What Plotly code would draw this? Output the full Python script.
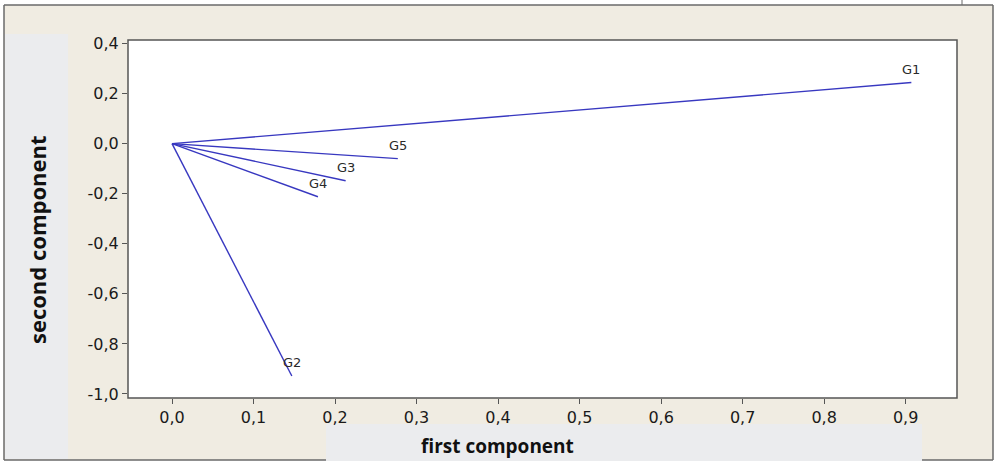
import plotly.graph_objects as go

# data
groups = ["G1", "G2", "G3", "G4", "G5"]
first_comp = [0.907, 0.147, 0.213, 0.179, 0.277]
second_comp = [0.244, -0.928, -0.148, -0.212, -0.060]

x_ticks = [0.0, 0.1, 0.2, 0.3, 0.4, 0.5, 0.6, 0.7, 0.8, 0.9]
x_ticktext = ["0,0", "0,1", "0,2", "0,3", "0,4", "0,5", "0,6", "0,7", "0,8", "0,9"]
y_ticks = [0.4, 0.2, 0.0, -0.2, -0.4, -0.6, -0.8, -1.0]
y_ticktext = ["0,4", "0,2", "0,0", "-0,2", "-0,4", "-0,6", "-0,8", "-1,0"]

W, H = 1007, 463
BEIGE = "#f0ece2"
GRAY = "#ebecee"
LINE = "#3838c0"

fig = go.Figure()
for g, x, y in zip(groups, first_comp, second_comp):
    fig.add_trace(go.Scatter(
        x=[0, x], y=[0, y], mode="lines",
        line=dict(color=LINE, width=1.4), showlegend=False, hoverinfo="skip"))

L, R, T, B = 128, 957, 40, 398
pw, ph = R - L, B - T
def fx(p): return (p - L) / pw
def fy(p): return (B - p) / ph

FR = dict(color="#6a6a6a", width=1.5)
shapes = [
    dict(type="rect", xref="paper", yref="paper", x0=fx(4), x1=fx(993), y0=fy(460), y1=fy(5),
         fillcolor=BEIGE, line=dict(width=0), layer="below"),
    dict(type="rect", xref="paper", yref="paper", x0=fx(5), x1=fx(68), y0=fy(459), y1=fy(34),
         fillcolor=GRAY, line=dict(width=0), layer="below"),
    dict(type="rect", xref="paper", yref="paper", x0=fx(326), x1=fx(922), y0=fy(461), y1=fy(424),
         fillcolor=GRAY, line=dict(width=0), layer="below"),
    dict(type="rect", xref="paper", yref="paper", x0=0, x1=1, y0=0, y1=1,
         fillcolor="white", line=dict(color="#555555", width=1.5), layer="below"),
    dict(type="line", xref="paper", yref="paper", x0=fx(4), x1=fx(993), y0=fy(5), y1=fy(5), line=FR),
    dict(type="line", xref="paper", yref="paper", x0=fx(4), x1=fx(4), y0=fy(5), y1=fy(460), line=FR),
    dict(type="line", xref="paper", yref="paper", x0=fx(993), x1=fx(993), y0=fy(5), y1=fy(460), line=FR),
    dict(type="line", xref="paper", yref="paper", x0=fx(4), x1=fx(326), y0=fy(460), y1=fy(460), line=FR),
    dict(type="line", xref="paper", yref="paper", x0=fx(922), x1=fx(993), y0=fy(460), y1=fy(460), line=FR),
    dict(type="line", xref="paper", yref="paper", x0=fx(962), x1=fx(962), y0=fy(0), y1=fy(5),
         line=dict(color="#6a6a6a", width=1)),
]

annotations = [
    dict(text=g, x=x, y=y, xref="x", yref="y", showarrow=False, yshift=13,
         xanchor="center", yanchor="middle",
         font=dict(family="DejaVu Sans", size=13, color="#2a2a2a"))
    for g, x, y in zip(groups, first_comp, second_comp)
]
annotations += [
    dict(text="<b>first component</b>", xref="paper", yref="paper",
         x=fx(497), y=fy(446), xanchor="center", yanchor="middle", showarrow=False,
         font=dict(family="Open Sans", size=19, color="#111111")),
    dict(text="<b>second component</b>", xref="paper", yref="paper",
         x=fx(37), y=fy(240), xanchor="center", yanchor="middle", showarrow=False, textangle=-90,
         font=dict(family="Open Sans", size=22, color="#111111")),
]

tickfont = dict(family="DejaVu Sans", size=16, color="#1a1a1a")
fig.update_layout(
    width=W, height=H,
    margin=dict(l=L, r=W - R, t=T, b=H - B),
    paper_bgcolor="white", plot_bgcolor="white",
    shapes=shapes,
    annotations=annotations,
    xaxis=dict(range=[-0.054, 0.963], tickvals=x_ticks, ticktext=x_ticktext,
               ticks="outside", ticklen=5, tickcolor="#555555", tickwidth=1.3,
               showgrid=False, zeroline=False, showline=False, tickfont=tickfont),
    yaxis=dict(range=[-1.016, 0.414], tickvals=y_ticks, ticktext=y_ticktext,
               ticks="outside", ticklen=5, tickcolor="#555555", tickwidth=1.3,
               showgrid=False, zeroline=False, showline=False, tickfont=tickfont),
)

fig.write_html("out.html", config={"displayModeBar": False},
               post_script="document.body.style.margin='0';document.body.style.overflow='hidden';")
